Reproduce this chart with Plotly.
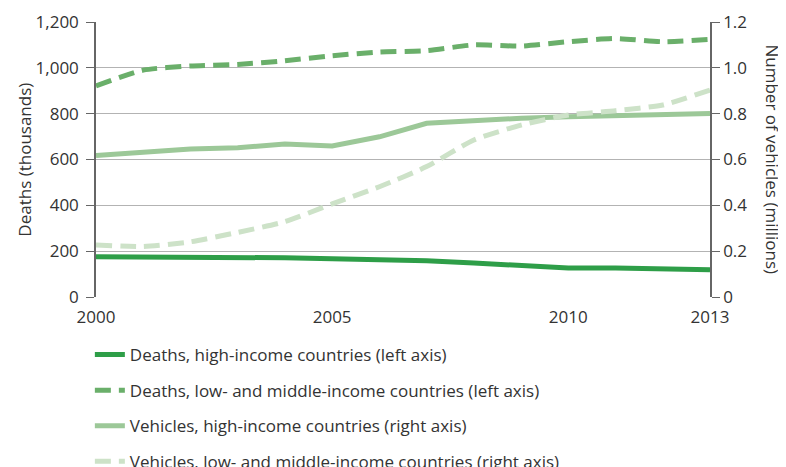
import plotly.graph_objects as go

years = list(range(2000, 2014))
deaths_high = [176, 175, 176, 175, 171, 167, 163, 158, 148, 138, 127, 127, 125, 119]
deaths_low_mid = [921, 990, 1008, 1015, 1031, 1053, 1069, 1075, 1100, 1095, 1114, 1128, 1114, 1124]
vehicles_high = [0.617, 0.633, 0.646, 0.651, 0.668, 0.659, 0.699, 0.758, 0.770, 0.780, 0.786, 0.791, 0.797, 0.801]
vehicles_low_mid = [0.227, 0.220, 0.241, 0.282, 0.329, 0.406, 0.481, 0.569, 0.685, 0.750, 0.794, 0.813, 0.838, 0.903]

left_ticks = [0, 200, 400, 600, 800, 1000, 1200]
right_ticks = [0, 0.2, 0.4, 0.6, 0.8, 1.0, 1.2]
right_labels = ["0", "0.2", "0.4", "0.6", "0.8", "1.0", "1.2"]
x_ticks = [2000, 2005, 2010, 2013]

FONT = "Open Sans"
TXT = "#333333"

fig = go.Figure()
fig.add_trace(go.Scatter(
    x=years, y=deaths_high, mode="lines", name="Deaths, high-income countries (left axis)",
    line=dict(color="#2e9e48", width=5), legendgroup="a"))
fig.add_trace(go.Scatter(
    x=years, y=deaths_low_mid, mode="lines", name="Deaths, low- and middle-income countries (left axis)",
    line=dict(color="#6aaf6a", width=5, dash="16px,8px", shape="spline", smoothing=0.6), legendgroup="b"))
fig.add_trace(go.Scatter(
    x=years, y=vehicles_high, mode="lines", name="Vehicles, high-income countries (right axis)",
    line=dict(color="#9cc898", width=5), yaxis="y2", legendgroup="c"))
fig.add_trace(go.Scatter(
    x=years, y=vehicles_low_mid, mode="lines", name="Vehicles, low- and middle-income countries (right axis)",
    line=dict(color="#cde2c8", width=5, dash="16px,8px", shape="spline", smoothing=0.6), yaxis="y2", legendgroup="d"))

# the page body adds an 8px margin, so the figure is 8px smaller and margins shifted
fig.update_layout(
    width=778, height=459,
    margin=dict(l=88, r=76, t=14, b=170, autoexpand=False),
    plot_bgcolor="white", paper_bgcolor="white",
    font=dict(family=FONT, size=17, color=TXT),
    xaxis=dict(range=[2000, 2013], tickvals=x_ticks, showgrid=False, zeroline=False,
               showline=False, ticks="", tickfont=dict(size=17), ticklabelstandoff=8),
    yaxis=dict(range=[0, 1200], tickvals=left_ticks, tickformat=",", showgrid=True,
               gridcolor="#b3b3b3", gridwidth=1, zeroline=False, showline=True,
               linecolor="#666666", linewidth=1.5, ticks="outside", ticklen=8,
               tickcolor="#666666", tickfont=dict(size=17), ticklabelstandoff=4),
    yaxis2=dict(range=[0, 1.2], tickvals=right_ticks, ticktext=right_labels, overlaying="y",
                side="right", showgrid=False, zeroline=False, showline=True,
                linecolor="#666666", linewidth=1.5, ticks="outside", ticklen=8,
                tickcolor="#666666", tickfont=dict(size=17)),
    legend=dict(x=-0.01, y=-0.1455, xanchor="left", yanchor="top", maxheight=200,
                orientation="v", tracegroupgap=10.5, font=dict(size=17), itemwidth=30),
    showlegend=True,
    annotations=[
        dict(text="Deaths (thousands)", textangle=-90, xref="paper", yref="paper",
             x=-0.117, y=0.5, xanchor="center", yanchor="middle", showarrow=False,
             font=dict(size=17, color=TXT)),
        dict(text="Number of vehicles (millions)", textangle=90, xref="paper", yref="paper",
             x=1.101, y=0.5, xanchor="center", yanchor="middle", showarrow=False,
             font=dict(size=17, color=TXT)),
    ],
)

fig.write_html("out.html")
